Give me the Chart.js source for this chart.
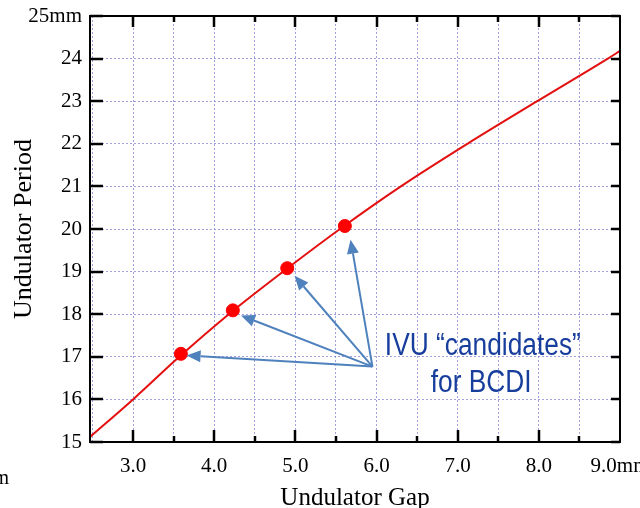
<!DOCTYPE html>
<html>
<head>
<meta charset="utf-8">
<script src="https://cdn.jsdelivr.net/npm/chart.js@4"></script>
<style>
  html, body { margin: 0; padding: 0; background: #fff; }
  #wrap { width: 640px; height: 508px; position: relative; }
</style>
</head>
<body>
<div id="wrap"><canvas id="periodChart"></canvas></div>
<script>
// curve: undulator gap (mm) -> period (mm)
var gapMm    = [2.47, 3.0, 3.57, 4.18, 4.85, 5.55, 6.3, 7.12, 7.98, 8.85, 9.0];
var periodMm = [15.12, 16.0, 17.0, 18.0, 19.0, 20.0, 21.0, 22.0, 23.0, 24.0, 24.18];

// IVU candidate points
var candGap    = [3.59, 4.23, 4.9, 5.61];
var candPeriod = [17.07, 18.09, 19.08, 20.07];

// arrows from the label to each candidate
var arrowFrom  = [5.95, 16.77];
var arrowTipX  = [3.66, 4.33, 4.99, 5.68];
var arrowTipY  = [17.03, 17.97, 18.9, 19.75];

var labelLines = ['IVU \u201ccandidates\u201d', 'for BCDI'];
var labelX = [7.31, 7.29];
var labelY = [17.04, 16.17];

var xTicks = [3, 4, 5, 6, 7, 8, 9];
var yTicks = [15, 16, 17, 18, 19, 20, 21, 22, 23, 24, 25];

function toXY(xs, ys) {
  return xs.map(function (x, i) { return { x: x, y: ys[i] }; });
}

var serif = '"Liberation Serif", "DejaVu Serif", serif';
var gridCol = 'rgba(130,130,215,0.75)';

var decor = {
  id: 'decor',
  afterDatasetsDraw: function (chart) {
    var ctx = chart.ctx, xs = chart.scales.x, ys = chart.scales.y;
    ctx.save();
    // arrows
    var ox = xs.getPixelForValue(arrowFrom[0]), oy = ys.getPixelForValue(arrowFrom[1]);
    ctx.strokeStyle = '#4f81bd';
    ctx.fillStyle = '#4f81bd';
    ctx.lineWidth = 2;
    arrowTipX.forEach(function (tx, i) {
      var px = xs.getPixelForValue(tx), py = ys.getPixelForValue(arrowTipY[i]);
      var ang = Math.atan2(py - oy, px - ox);
      var len = 14, hw = 6;
      var bx = px - Math.cos(ang) * len, by = py - Math.sin(ang) * len;
      ctx.beginPath();
      ctx.moveTo(ox, oy);
      ctx.lineTo(bx, by);
      ctx.stroke();
      ctx.beginPath();
      ctx.moveTo(px, py);
      ctx.lineTo(bx + Math.sin(ang) * hw, by - Math.cos(ang) * hw);
      ctx.lineTo(bx - Math.sin(ang) * hw, by + Math.cos(ang) * hw);
      ctx.closePath();
      ctx.fill();
    });
    // label, a bit condensed like the source
    ctx.font = '31px "Liberation Sans", Arial, sans-serif';
    ctx.fillStyle = '#173e9c';
    ctx.textBaseline = 'alphabetic';
    ctx.textAlign = 'center';
    var sx = 196 / ctx.measureText(labelLines[0]).width;
    labelLines.forEach(function (t, i) {
      var px = xs.getPixelForValue(labelX[i]), py = ys.getPixelForValue(labelY[i]);
      ctx.save();
      ctx.translate(px, py);
      ctx.scale(sx, 1);
      ctx.fillText(t, 0, 0);
      ctx.restore();
    });
    ctx.restore();
  },
  afterDraw: function (chart) {
    var ctx = chart.ctx, xs = chart.scales.x, ys = chart.scales.y;
    var a = chart.chartArea;
    ctx.save();
    ctx.strokeStyle = '#000';
    ctx.lineWidth = 2;
    ctx.strokeRect(a.left, a.top, a.right - a.left, a.bottom - a.top);
    // inward ticks
    ctx.lineWidth = 2.5;
    ctx.beginPath();
    for (var v = 3; v <= 8.5; v += 0.5) {
      var px = Math.round(xs.getPixelForValue(v));
      var major = v % 1 === 0;
      ctx.moveTo(px, a.bottom); ctx.lineTo(px, a.bottom - (major ? 12 : 6));
      ctx.moveTo(px, a.top); ctx.lineTo(px, a.top + (major ? 11 : 6));
    }
    yTicks.forEach(function (v) {
      var py = Math.round(ys.getPixelForValue(v));
      ctx.moveTo(a.left, py); ctx.lineTo(a.left + 13, py);
      ctx.moveTo(a.right, py); ctx.lineTo(a.right - 9, py);
    });
    ctx.stroke();
    // stray bit of cropped text from the source slide
    ctx.font = '20px ' + serif;
    ctx.fillStyle = '#000';
    ctx.textAlign = 'right';
    ctx.fillText('mm', 9, 484);
    ctx.restore();
  }
};

new Chart(document.getElementById('periodChart'), {
  type: 'line',
  data: {
    datasets: [
      {
        label: 'Period',
        data: toXY(gapMm, periodMm),
        borderColor: '#e41010',
        borderWidth: 2,
        pointRadius: 0,
        cubicInterpolationMode: 'monotone',
        order: 2
      },
      {
        label: 'IVU candidates',
        type: 'scatter',
        data: toXY(candGap, candPeriod),
        backgroundColor: '#ff0000',
        borderColor: '#ff0000',
        pointRadius: 6.5,
        order: 1
      }
    ]
  },
  options: {
    responsive: true,
    maintainAspectRatio: false,
    animation: false,
    events: [],
    layout: { padding: { top: 16, right: 20, left: 0, bottom: 0 } },
    plugins: { legend: { display: false }, tooltip: { enabled: false } },
    scales: {
      x: {
        type: 'linear',
        min: 2.47,
        max: 9.0,
        afterBuildTicks: function (s) {
          var t = [];
          for (var v = 2.5; v <= 9.0; v += 0.5) t.push({ value: v });
          s.ticks = t;
        },
        afterFit: function (s) { s.height = 66; s.paddingLeft = 0; s.paddingRight = 0; },
        grid: { color: gridCol, lineWidth: 1, drawTicks: false },
        border: { display: false, dash: [2, 2] },
        ticks: {
          autoSkip: false,
          maxRotation: 0,
          padding: 12,
          color: '#000',
          font: { family: serif, size: 21 },
          callback: function (v) {
            if (xTicks.indexOf(v) < 0) return '';
            return v.toFixed(1) + (v === 9 ? 'mm' : '');
          }
        },
        title: {
          display: true,
          text: 'Undulator Gap',
          color: '#000',
          font: { family: serif, size: 25 },
          padding: { top: 0, bottom: -5 }
        }
      },
      y: {
        min: 15,
        max: 25,
        afterBuildTicks: function (s) {
          s.ticks = yTicks.map(function (v) { return { value: v }; });
        },
        afterFit: function (s) { s.width = 90; s.paddingTop = 0; s.paddingBottom = 0; },
        grid: { color: gridCol, lineWidth: 1, drawTicks: false },
        border: { display: false, dash: [2, 2] },
        ticks: {
          padding: 8,
          color: '#000',
          font: { family: serif, size: 21 },
          callback: function (v) { return v === 25 ? '25mm' : String(v); }
        },
        title: {
          display: true,
          text: 'Undulator Period',
          color: '#000',
          font: { family: serif, size: 26 },
          padding: { top: 9, bottom: 0 }
        }
      }
    }
  },
  plugins: [decor]
});
</script>
</body>
</html>
